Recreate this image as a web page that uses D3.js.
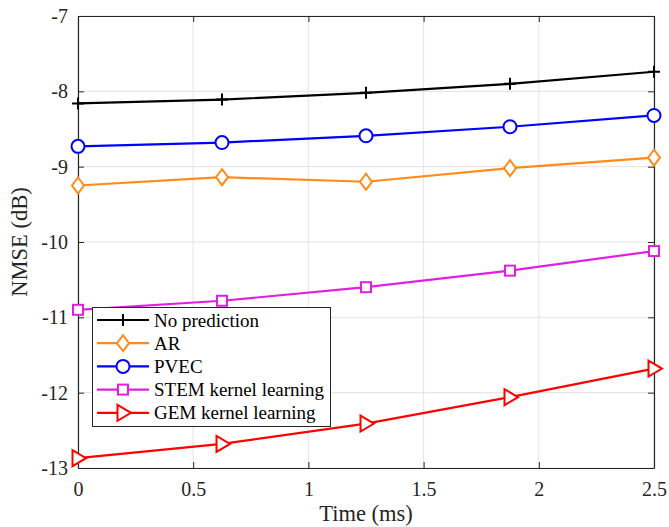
<!DOCTYPE html>
<html>
<head>
<meta charset="utf-8">
<script src="https://cdn.jsdelivr.net/npm/d3@7"></script>
<style>
  html, body { margin: 0; padding: 0; background: #fff; }
  svg { display: block; }
  svg text { font-family: "Liberation Serif", "Times New Roman", serif !important; }
</style>
</head>
<body>
<svg id="chart" width="669" height="527"></svg>
<script>
// Time instants (ms)
const times = [0, 0.625, 1.25, 1.875, 2.5];

// NMSE (dB) per method
const noPrediction = [-8.16, -8.11, -8.02, -7.90, -7.74];
const arValues     = [-9.25, -9.14, -9.20, -9.02, -8.88];
const pvecValues   = [-8.73, -8.68, -8.59, -8.47, -8.32];
const stemValues   = [-10.90, -10.78, -10.60, -10.38, -10.12];
const gemValues    = [-12.87, -12.68, -12.41, -12.06, -11.68];

const seriesNames = ["No prediction", "AR", "PVEC", "STEM kernel learning", "GEM kernel learning"];
const xTicks = [0, 0.5, 1, 1.5, 2, 2.5];
const yTicks = [-13, -12, -11, -10, -9, -8, -7];

const series = [
  { name: seriesNames[0], values: noPrediction, color: "#000000", marker: "plus" },
  { name: seriesNames[1], values: arValues,     color: "#FF8C1A", marker: "diamond" },
  { name: seriesNames[2], values: pvecValues,   color: "#0000FF", marker: "circle" },
  { name: seriesNames[3], values: stemValues,   color: "#E020E0", marker: "square" },
  { name: seriesNames[4], values: gemValues,    color: "#FF0000", marker: "triangle" }
];

const SERIF = "'Liberation Serif', 'Times New Roman', serif";
const svg = d3.select("#chart").attr("font-family", SERIF);
const margin = { left: 78, right: 669 - 654, top: 16, bottom: 527 - 468 };
const W = 669, H = 527;
const x = d3.scaleLinear().domain([0, 2.5]).range([margin.left, W - margin.right]);
const y = d3.scaleLinear().domain([-13, -7]).range([H - margin.bottom, margin.top]);

const axisColor = "#262626";
const gridColor = "#e3e3e3";

// grid
const grid = svg.append("g");
grid.selectAll("line.gx").data(xTicks).join("line")
  .attr("x1", d => x(d)).attr("x2", d => x(d))
  .attr("y1", y(-13)).attr("y2", y(-7))
  .attr("stroke", gridColor).attr("stroke-width", 1);
grid.selectAll("line.gy").data(yTicks).join("line")
  .attr("x1", x(0)).attr("x2", x(2.5))
  .attr("y1", d => y(d)).attr("y2", d => y(d))
  .attr("stroke", gridColor).attr("stroke-width", 1);

// axes with inward ticks
const tickLen = 6;
const fmt = d => String(d).replace("\u2212", "-");
const xAxis = svg.append("g").attr("transform", `translate(0,${y(-13)})`)
  .call(d3.axisBottom(x).tickValues(xTicks).tickSizeInner(-tickLen).tickSizeOuter(0).tickPadding(14).tickFormat(fmt));
const xAxisTop = svg.append("g").attr("transform", `translate(0,${y(-7)})`)
  .call(d3.axisTop(x).tickValues(xTicks).tickSizeInner(-tickLen).tickSizeOuter(0).tickFormat(""));
const yAxis = svg.append("g").attr("transform", `translate(${x(0)},0)`)
  .call(d3.axisLeft(y).tickValues(yTicks).tickSizeInner(-tickLen).tickSizeOuter(0).tickPadding(10).tickFormat(fmt));
const yAxisRight = svg.append("g").attr("transform", `translate(${x(2.5)},0)`)
  .call(d3.axisRight(y).tickValues(yTicks).tickSizeInner(-tickLen).tickSizeOuter(0).tickFormat(""));

[xAxis, xAxisTop, yAxis, yAxisRight].forEach(g => {
  g.attr("font-family", SERIF).attr("font-size", 20);
  g.select(".domain").attr("stroke", axisColor).attr("stroke-width", 1.2);
  g.selectAll(".tick line").attr("stroke", axisColor).attr("stroke-width", 1);
  g.selectAll(".tick text").attr("fill", "#262626");
});

// axis titles
svg.append("text").attr("x", (x(0) + x(2.5)) / 2).attr("y", 521)
  .attr("text-anchor", "middle").attr("fill", "#262626")
  .attr("font-family", SERIF).attr("font-size", 22.5).text("Time (ms)");
svg.append("text").attr("transform", `translate(27,${(y(-7) + y(-13)) / 2}) rotate(-90)`)
  .attr("text-anchor", "middle").attr("fill", "#262626")
  .attr("font-family", SERIF).attr("font-size", 22.5).text("NMSE (dB)");

// marker drawing
function drawMarker(g, type, color) {
  if (type === "plus") {
    g.append("path").attr("d", "M-6,0H6M0,-6V6").attr("stroke", color).attr("stroke-width", 2).attr("fill", "none");
  } else if (type === "diamond") {
    g.append("path").attr("d", "M0,-8L6,0L0,8L-6,0Z").attr("stroke", color).attr("stroke-width", 2).attr("fill", "#fff");
  } else if (type === "circle") {
    g.append("circle").attr("r", 6.5).attr("stroke", color).attr("stroke-width", 2).attr("fill", "#fff");
  } else if (type === "square") {
    g.append("rect").attr("x", -5).attr("y", -5).attr("width", 10).attr("height", 10)
      .attr("stroke", color).attr("stroke-width", 2).attr("fill", "#fff");
  } else if (type === "triangle") {
    g.append("path").attr("d", "M-5.5,-8L8,0L-5.5,8Z").attr("stroke", color).attr("stroke-width", 2).attr("fill", "#fff");
  }
}

const line = d3.line().x((d, i) => x(times[i])).y(d => y(d));
const plot = svg.append("g");
series.forEach(s => {
  plot.append("path").datum(s.values).attr("d", line)
    .attr("fill", "none").attr("stroke", s.color).attr("stroke-width", 2.2);
  s.values.forEach((v, i) => {
    const g = plot.append("g").attr("transform", `translate(${x(times[i])},${y(v)})`);
    drawMarker(g, s.marker, s.color);
  });
});

// legend
const lg = svg.append("g");
lg.append("rect").attr("x", 92.5).attr("y", 307.5).attr("width", 238).attr("height", 119)
  .attr("fill", "#fff").attr("stroke", axisColor).attr("stroke-width", 1);
series.forEach((s, i) => {
  const cy = 320 + i * 23.2;
  lg.append("line").attr("x1", 97).attr("x2", 149).attr("y1", cy).attr("y2", cy)
    .attr("stroke", s.color).attr("stroke-width", 2.2);
  const g = lg.append("g").attr("transform", `translate(123,${cy})`);
  drawMarker(g, s.marker, s.color);
  lg.append("text").attr("x", 154).attr("y", cy + 6.5).attr("fill", "#000")
    .attr("font-family", SERIF).attr("font-size", 19).text(s.name);
});
</script>
</body>
</html>
